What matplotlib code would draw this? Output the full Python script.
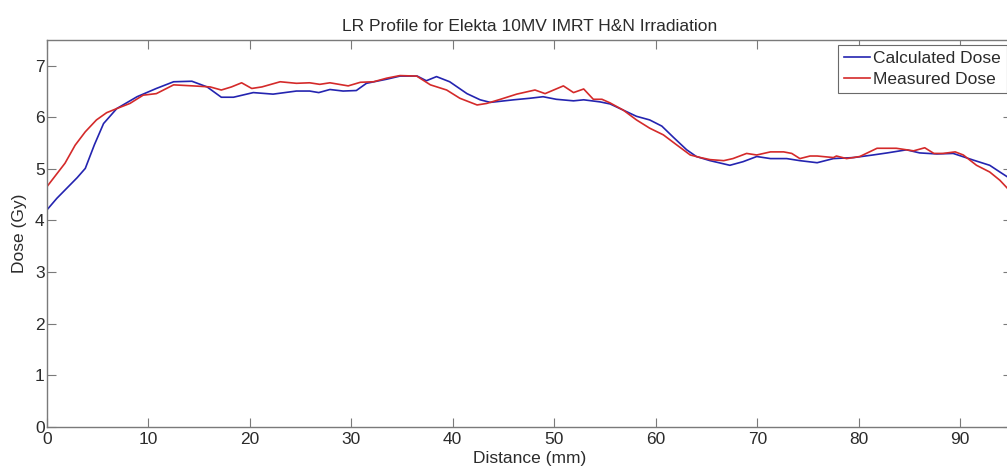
#!/usr/bin/env python3

import matplotlib
matplotlib.use('Agg')
import matplotlib.pyplot as plt

# Calculated dose (blue) read from the profile
calc_dist = [0, 1, 2, 3, 3.8, 4.7, 5.6, 6.9, 8.9, 10.8,
             12.5, 14.3, 15.8, 17.2, 18.4, 20.35, 22.3, 24.6, 25.9, 26.8,
             27.9, 29.2, 30.5, 31.5, 33.5, 34.8, 36.5, 37.4, 38.4, 39.7,
             41.4, 42.7, 43.7, 46.0, 47.6, 48.9, 50.2, 51.9, 52.9, 54.5,
             55.5, 56.8, 58.1, 59.4, 60.6, 61.7, 63.05, 64.0, 65.35, 67.3,
             68.6, 69.95, 71.3, 72.9, 74.2, 75.9, 77.5, 79.5, 81.4, 82.8,
             84.7, 86.0, 87.7, 89.3, 91.3, 92.9, 93.9, 95.0]
calc_dose = [4.2, 4.43, 4.63, 4.83, 5.01, 5.47, 5.88, 6.17, 6.40, 6.56,
             6.69, 6.70, 6.59, 6.39, 6.39, 6.48, 6.45, 6.51, 6.51, 6.48,
             6.54, 6.51, 6.52, 6.66, 6.74, 6.80, 6.80, 6.71, 6.79, 6.69,
             6.46, 6.34, 6.29, 6.34, 6.37, 6.40, 6.35, 6.32, 6.34, 6.30,
             6.26, 6.14, 6.02, 5.95, 5.83, 5.62, 5.37, 5.24, 5.16, 5.07,
             5.14, 5.24, 5.20, 5.20, 5.16, 5.12, 5.20, 5.22, 5.27, 5.31,
             5.37, 5.31, 5.29, 5.30, 5.17, 5.07, 4.94, 4.80]

# Measured dose (red)
meas_dist = [0, 1.8, 2.8, 3.8, 4.9, 5.9, 6.9, 8.2, 9.5, 10.8,
             11.5, 12.5, 14.4, 16.1, 17.2, 18.2, 19.2, 20.2, 21.2, 23.0,
             24.6, 25.9, 26.9, 27.9, 29.7, 30.9, 32.2, 33.5, 34.8, 36.45,
             37.8, 39.4, 40.7, 42.4, 43.35, 44.7, 46.3, 48.1, 49.1, 50.9,
             51.9, 52.9, 53.85, 54.7, 55.5, 56.8, 58.1, 59.4, 60.75, 62.1,
             63.4, 64.4, 65.35, 66.7, 67.6, 68.95, 69.95, 71.3, 72.6, 73.4,
             74.2, 75.2, 75.9, 77.5, 77.8, 78.8, 80.1, 81.8, 83.7, 85.4,
             86.5, 87.4, 88.3, 89.5, 90.3, 91.6, 92.9, 93.9, 95.0]
meas_dose = [4.65, 5.11, 5.46, 5.72, 5.95, 6.09, 6.17, 6.27, 6.43, 6.46,
             6.53, 6.63, 6.61, 6.59, 6.53, 6.59, 6.67, 6.56, 6.59, 6.69,
             6.66, 6.67, 6.64, 6.67, 6.61, 6.68, 6.69, 6.76, 6.81, 6.80,
             6.63, 6.53, 6.37, 6.24, 6.27, 6.35, 6.45, 6.53, 6.46, 6.61,
             6.48, 6.55, 6.35, 6.35, 6.28, 6.14, 5.95, 5.79, 5.66, 5.46,
             5.27, 5.22, 5.18, 5.16, 5.20, 5.30, 5.27, 5.33, 5.33, 5.30,
             5.20, 5.25, 5.25, 5.22, 5.25, 5.20, 5.24, 5.40, 5.40, 5.35,
             5.41, 5.30, 5.30, 5.33, 5.27, 5.07, 4.94, 4.78, 4.55]

x_ticks = [0, 10, 20, 30, 40, 50, 60, 70, 80, 90]
y_ticks = [0, 1, 2, 3, 4, 5, 6, 7]

plt.rcParams['font.family'] = ['Liberation Sans', 'DejaVu Sans']
text_col = '#2b2b2b'
axis_col = '#7a7a7a'

fig = plt.figure(figsize=(10.07, 4.70), dpi=100)
ax = fig.add_axes([0.0464, 0.0921, 0.9586, 0.8228])

ax.plot(calc_dist, calc_dose, color='#2424b0', lw=1.2, label='Calculated Dose')
ax.plot(meas_dist, meas_dose, color='#d42a2a', lw=1.2, label='Measured Dose')

ax.set_xlim(0, 95.1)
ax.set_ylim(0, 7.5)
ax.set_xticks(x_ticks)
ax.set_yticks(y_ticks)
ax.tick_params(direction='in', length=6.5, width=0.8, colors=axis_col,
               labelcolor=text_col, labelsize=12.5, top=True, right=True)
ax.tick_params(axis='x', pad=4)
ax.tick_params(axis='y', pad=1.5)
for sp in ax.spines.values():
    sp.set_color(axis_col)
    sp.set_linewidth(1.0)

ax.set_title('LR Profile for Elekta 10MV IMRT H&N Irradiation',
             fontsize=12.5, color=text_col, pad=6.5)
ax.set_xlabel('Distance (mm)', fontsize=12.5, color=text_col, labelpad=3)
ax.set_ylabel('Dose (Gy)', fontsize=12.5, color=text_col, labelpad=6)

leg = ax.legend(loc='upper right', fontsize=12.5, fancybox=False,
                handlelength=1.5, handletextpad=0.15, borderpad=0.35,
                labelspacing=0.3, borderaxespad=0.3, framealpha=1)
leg.get_frame().set_edgecolor('#6a6a6a')
leg.get_frame().set_linewidth(0.8)
for t in leg.get_texts():
    t.set_color(text_col)

fig.savefig('out.png', dpi=100)
